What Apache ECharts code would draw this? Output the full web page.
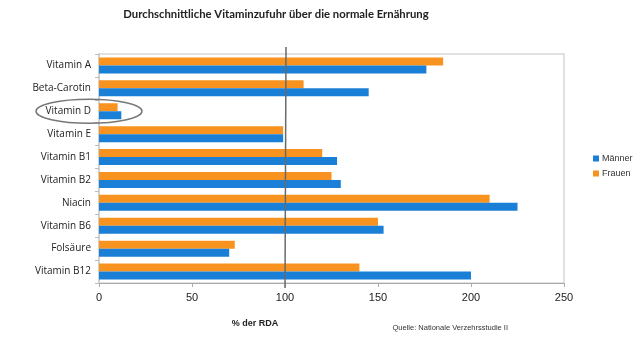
<!DOCTYPE html>
<html><head><meta charset="utf-8">
<script src="https://cdn.jsdelivr.net/npm/echarts@6/dist/echarts.min.js"></script>
<style>html,body{margin:0;padding:0;background:#fff}#c{width:640px;height:348px}</style>
</head><body><div id="c"></div>
<script>
const categories = ['Vitamin A','Beta-Carotin','Vitamin D','Vitamin E','Vitamin B1','Vitamin B2','Niacin','Vitamin B6','Folsäure','Vitamin B12'];
const maenner = [176,145,12,99,128,130,225,153,70,200];
const frauen  = [185,110,10,99,120,125,210,150,73,140];
const xTicks = [0,50,100,150,200,250];
const refValue = 100;
const highlight = 'Vitamin D';

const chart = echarts.init(document.getElementById('c'), null, {renderer:'canvas'});
const font = '"Open Sans", "Noto Sans", sans-serif';
const sans = '"Liberation Sans", Arial, sans-serif';
chart.setOption({
  animation:false,
  textStyle:{fontFamily:font},
  title:[
    {text:'Durchschnittliche Vitaminzufuhr über die normale Ernährung', left:271, top:4, textAlign:'center',
     textStyle:{fontSize:11.3, fontWeight:'bold', color:'#222', fontFamily:'Lato, sans-serif'}},
    {text:'% der RDA', left:250, top:314, textAlign:'center', textStyle:{fontSize:9, fontWeight:'bold', color:'#222', fontFamily:sans}},
    {text:'Quelle: Nationale Verzehrsstudie II', left:503, top:319, textAlign:'right', textStyle:{fontSize:7.5, fontWeight:'normal', color:'#333', fontFamily:sans}}
  ],
  legend:{data:['Männer','Frauen'], orient:'vertical', left:588, top:149, itemWidth:6, itemHeight:6, itemGap:6,
    icon:'rect', textStyle:{fontSize:9, color:'#333', fontFamily:sans, padding:[0,0,0,-2]}},
  grid:{left:99, right:76, top:54, bottom:65, show:true, borderColor:'#d8d8d8', borderWidth:1.5},
  xAxis:{type:'value', min:0, max:250, interval:50,
    axisLine:{show:true, lineStyle:{color:'#aaa'}},
    axisTick:{show:true, length:4, lineStyle:{color:'#aaa'}},
    splitLine:{show:false},
    axisLabel:{color:'#222', fontSize:11, margin:9, fontFamily:sans,
      formatter:v=>xTicks.includes(v)?String(v):''}},
  yAxis:{type:'category', data:categories, inverse:true,
    axisLine:{show:true, lineStyle:{color:'#ccc', width:1.5}},
    axisTick:{show:true, length:4, lineStyle:{color:'#bbb'}},
    axisLabel:{color:'#222', fontSize:10, margin:8}},
  series:[
    {name:'Frauen', type:'bar', data:frauen, barGap:'0%', barCategoryGap:'30%', itemStyle:{color:'#f7931e'}},
    {name:'Männer', type:'bar', data:maenner, barGap:'0%', barCategoryGap:'30%', itemStyle:{color:'#1a7fd6'}}
  ]
});
const px = chart.convertToPixel({xAxisIndex:0}, refValue);
const bottomY = 348 - 65;
const dY = chart.convertToPixel({yAxisIndex:0}, highlight);
const labelRight = chart.convertToPixel({xAxisIndex:0}, 0);
chart.setOption({graphic:[
  {type:'line', shape:{x1:px+1, y1:47, x2:px, y2:bottomY+5}, style:{stroke:'#6a6a6a', lineWidth:1.5}, z:100},
  {type:'ellipse', shape:{cx:labelRight-10, cy:dY, rx:53, ry:12}, style:{stroke:'#777', fill:null, lineWidth:1.5}, z:100}
]});
</script></body></html>
